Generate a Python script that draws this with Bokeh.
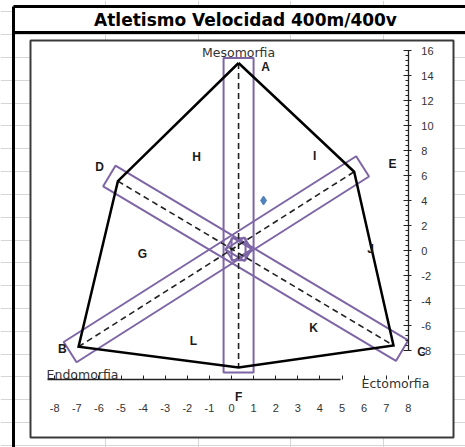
import math
from bokeh.plotting import figure
from bokeh.models import Range1d, LinearAxis, FixedTicker, Grid
from bokeh.core.properties import value
from bokeh.embed import file_html
from bokeh.resources import INLINE

# ---- somatochart data: X = ecto - endo, Y = 2*meso - (endo + ecto) ----
point_names = ["A", "E", "C", "F", "B", "D"]
point_x = [0.32, 5.55, 7.33, 0.32, -6.92, -5.14]
point_y = [15.0, 6.3, -7.6, -9.35, -7.7, 5.55]

# closed outline of the chart
outline_order = ["A", "E", "C", "F", "B", "D", "A"]

# axes of the chart (dashed lines), each framed by a band
axis_pairs = [("A", "F"), ("D", "C"), ("B", "E")]

# meeting point of the three axes
centre_x = [0.32]
centre_y = [0.1]

# athlete's somatopoint
athlete_x = [1.45]
athlete_y = [4.0]

# zone letters and axis names
zone_letters = ["A", "B", "C", "D", "E", "F", "G", "H", "I", "J", "K", "L"]
zone_x = [1.54, -7.65, 8.6, -5.97, 7.29, 0.32, -4.03, -1.58, 3.76, 6.29, 3.71, -1.72]
zone_y = [14.72, -7.84, -8.1, 6.72, 6.96, -11.7, -0.24, 7.52, 7.6, 0.16, -6.16, -7.2]
somato_names = ["Mesomorfia", "Endomorfia", "Ectomorfia"]
somato_x = [0.32, -6.74, 7.42]
somato_y = [15.84, -9.92, -10.64]

x_ticks = list(range(-8, 9))
y_ticks = list(range(-8, 17, 2))
y_minor = [round(-8 + 0.4 * i, 1) for i in range(61)]

TITLE = "Atletismo Velocidad 400m/400v"

# ---- canvas geometry (pixels per data unit, origin position on the canvas) ----
W, H = 465, 447
SX, SY = 22.1, 12.5
OX, OY = 231.0, 250.0


def dx(px):
    return (px - OX) / SX


def dy(py):
    return (OY - py) / SY


p = figure(width=W, height=H, x_range=Range1d(dx(0), dx(W)), y_range=Range1d(dy(H), dy(0)),
           x_axis_location=None, y_axis_location=None, toolbar_location=None,
           output_backend="svg", min_border=0, outline_line_color=None,
           background_fill_color="white", border_fill_color="white")
p.center = [r for r in p.center if not isinstance(r, Grid)]

# worksheet cell grid behind the chart
sheet_rows = [dy(11.4 + 22.81 * k) for k in range(20)]
sheet_cols = [dx(105 + 92.7 * k) for k in range(4)]
p.add_layout(Grid(dimension=1, ticker=FixedTicker(ticks=sheet_rows), grid_line_color="#d6d6d6",
                  grid_line_width=1))
p.add_layout(Grid(dimension=0, ticker=FixedTicker(ticks=sheet_cols), grid_line_color="#d6d6d6",
                  grid_line_width=1))

# title bar and chart box
p.quad(left=[dx(13)], right=[dx(W + 5)], top=[dy(6)], bottom=[dy(32)],
       fill_color="white", line_color=None)
p.quad(left=[dx(30)], right=[dx(453)], top=[dy(40)], bottom=[dy(437)],
       fill_color="white", line_color="#3a3a3a", line_width=2)
p.segment(x0=[dx(13), dx(13), dx(13)], y0=[dy(6), dy(6), dy(32)],
          x1=[dx(13), dx(W + 5), dx(W + 5)], y1=[dy(H + 5), dy(6), dy(32)],
          line_color="black", line_width=3)
p.text(x=[dx(245)], y=[dy(19.5)], text=[TITLE], text_font=value("DejaVu Sans"),
       text_font_style="bold", text_font_size="17px", text_align="center",
       text_baseline="middle", text_color="black")

pts = {n: (x, y) for n, x, y in zip(point_names, point_x, point_y)}

# bands around each axis, drawn in screen space
purple = "#7d65a6"
band_ext = [5, 10, 10]
band_half = [15, 12, 12]
bx, by, bw, bh, ba = [], [], [], [], []
for (a, b), ext, half in zip(axis_pairs, band_ext, band_half):
    (x0, y0), (x1, y1) = pts[a], pts[b]
    sdx, sdy = (x1 - x0) * SX, (y1 - y0) * SY
    bx.append((x0 + x1) / 2)
    by.append((y0 + y1) / 2)
    bw.append(math.hypot(sdx, sdy) + 2 * ext)
    bh.append(2 * half)
    ba.append(math.atan2(sdy, sdx))
p.rect(x=bx, y=by, width=bw, height=bh, angle=ba, width_units="screen", height_units="screen",
       fill_color=None, line_color=purple, line_width=2)
p.rect(x=centre_x * 3, y=centre_y * 3, width=[22] * 3, height=[14] * 3, angle=ba,
       width_units="screen", height_units="screen", fill_color=None, line_color=purple,
       line_width=2)

# dashed axes
p.segment(x0=[pts[a][0] for a, _ in axis_pairs], y0=[pts[a][1] for a, _ in axis_pairs],
          x1=[pts[b][0] for _, b in axis_pairs], y1=[pts[b][1] for _, b in axis_pairs],
          line_color="#222222", line_width=1.6, line_dash="6 4")

# outline
p.line(x=[pts[n][0] for n in outline_order], y=[pts[n][1] for n in outline_order],
       line_color="black", line_width=2.5, line_join="miter")

# athlete
p.scatter(x=athlete_x, y=athlete_y, marker="diamond", size=9, fill_color="#4f81bd",
          line_color="#4f81bd")

# axes: the x axis line carries only tick marks, a second axis carries the numbers
x_line_axis = LinearAxis(fixed_location=dy(379), ticker=FixedTicker(ticks=[], minor_ticks=x_ticks),
                         bounds=(dx(47), dx(340)), minor_tick_in=4, minor_tick_out=0,
                         axis_line_color="#222222", axis_line_width=1.3,
                         minor_tick_line_color="#222222", major_tick_line_color=None)
x_label_axis = LinearAxis(fixed_location=dy(379), ticker=FixedTicker(ticks=x_ticks),
                          axis_line_color=None, major_tick_line_color=None,
                          minor_tick_line_color=None, major_label_standoff=18,
                          major_label_overrides={t: str(t) for t in x_ticks},
                          major_label_text_font="Liberation Sans",
                          major_label_text_font_size="11px", major_label_text_color="#333333")
y_axis = LinearAxis(fixed_location=8, ticker=FixedTicker(ticks=y_ticks, minor_ticks=y_minor),
                    bounds=(-8, 16), axis_line_color="#222222", axis_line_width=1.3,
                    major_tick_in=5, major_tick_out=3, minor_tick_in=3, minor_tick_out=0,
                    major_tick_line_color="#222222", minor_tick_line_color="#222222",
                    major_label_standoff=10,
                    major_label_overrides={t: str(t) for t in y_ticks},
                    major_label_text_font="Liberation Sans",
                    major_label_text_font_size="11px", major_label_text_color="#333333")
p.add_layout(x_line_axis, "below")
p.add_layout(x_label_axis, "below")
p.add_layout(y_axis, "right")

# labels
p.text(x=zone_x, y=zone_y, text=zone_letters, text_font=value("Liberation Sans"),
       text_font_style="bold", text_font_size="12px", text_align="center",
       text_baseline="middle", text_color="#1a1a1a")
p.text(x=somato_x, y=somato_y, text=somato_names, text_font=value("DejaVu Sans"),
       text_font_size="12.5px", text_align="center", text_baseline="middle",
       text_color="#333333")

open("out.html", "w").write(file_html(p, INLINE))
